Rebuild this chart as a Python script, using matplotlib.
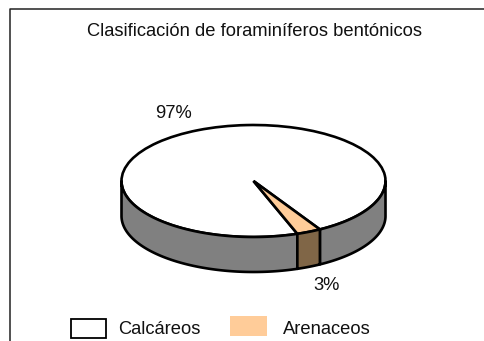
import numpy as np
import matplotlib
matplotlib.use('Agg')
import matplotlib.pyplot as plt
from matplotlib.patches import Rectangle

title = 'Clasificación de foraminíferos bentónicos'
labels = ['Calcáreos', 'Arenaceos']
values = [97, 3]
value_labels = ['97%', '3%']
top_colors = ['#FFFFFF', '#FFCC99']
side_colors = ['#808080', '#806647']

W, H = 485, 341
cx, cy, a, b, depth = 253.5, 181, 132, 56, 35
start = 300.2

plt.rcParams['font.family'] = ['Liberation Sans', 'DejaVu Sans']
fig = plt.figure(figsize=(W / 100, H / 100), dpi=100)
ax = fig.add_axes([0, 0, 1, 1])

# unit circle on the data side, squashed to an ellipse by the limits
ax.pie(values, colors=top_colors, startangle=start, radius=1, counterclock=True,
       wedgeprops={'edgecolor': 'black', 'linewidth': 1.9}, frame=True)
ax.set_aspect('auto')
ax.set_xlim(-cx / a, (W - cx) / a)
ax.set_ylim((cy - H) / b, cy / b)
ax.axis('off')

# side of the disc, only the front half shows
d = depth / b
angles = np.cumsum([0] + values) / sum(values) * 360 + start
for i in range(len(values)):
    t0, t1 = angles[i], angles[i + 1]
    pieces = []
    for k in (0, 1):
        lo = max(t0, 180 + 360 * k)
        hi = min(t1, 360 + 360 * k)
        if hi > lo:
            pieces.append((lo, hi))
    for lo, hi in pieces:
        t = np.radians(np.linspace(lo, hi, 100))
        xs = np.r_[np.cos(t), np.cos(t[::-1])]
        ys = np.r_[np.sin(t), np.sin(t[::-1]) - d]
        ax.fill(xs, ys, facecolor=side_colors[i], edgecolor='black', linewidth=1.9,
                joinstyle='round', zorder=1)


def px(x, y):
    return x / W, 1 - y / H


fig.add_artist(plt.Line2D([10 / W, 10 / W, 1], [0, 1 - 9 / H, 1 - 9 / H],
                          color='#222222', lw=1.1))

fs = 13.2
fig.text(*px(254.5, 32), title, ha='center', va='center', fontsize=fs, color='#111111')
fig.text(*px(174, 114), value_labels[0], ha='center', va='center', fontsize=fs, color='#111111')
fig.text(*px(327, 285), value_labels[1], ha='center', va='center', fontsize=fs, color='#111111')

fig.add_artist(Rectangle(px(70.5, 338), 36 / W, 19 / H, transform=fig.transFigure,
                         facecolor=top_colors[0], edgecolor='black', linewidth=1.3))
fig.add_artist(Rectangle(px(230, 336), 37 / W, 20 / H, transform=fig.transFigure,
                         facecolor=top_colors[1], edgecolor='none'))
fig.text(*px(118, 330), labels[0], ha='left', va='center', fontsize=fs, color='#111111')
fig.text(*px(283, 330), labels[1], ha='left', va='center', fontsize=fs, color='#111111')

fig.savefig('out.png', dpi=100)
